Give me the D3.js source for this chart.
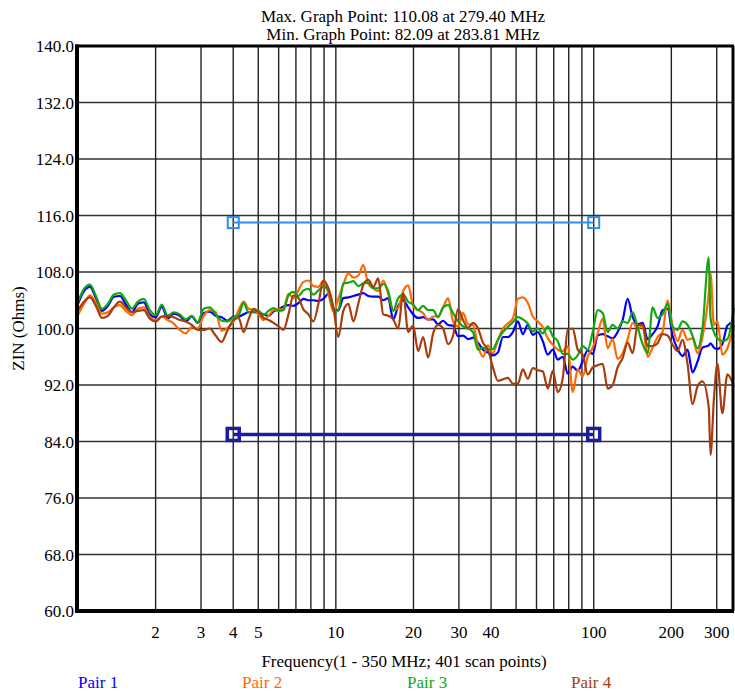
<!DOCTYPE html>
<html>
<head>
<meta charset="utf-8">
<script src="https://cdn.jsdelivr.net/npm/d3@7"></script>
<style>
  body { margin: 0; background: #fff; }
  text { font-family: "Liberation Serif", "Times New Roman", serif; }
</style>
</head>
<body>
<div id="chart"></div>
<script>
var svgWidth = 735;
var svgHeight = 691;

var margin = { top: 46, right: 1, bottom: 80, left: 78 };
var width = svgWidth - margin.left - margin.right;
var height = svgHeight - margin.top - margin.bottom;

// scan frequencies (MHz)
var freqs = [
  1.000, 1.055, 1.113, 1.174, 1.238, 1.306, 1.378, 1.454, 1.533, 1.618,
  1.707, 1.800, 1.899, 2.003, 2.113, 2.229, 2.351, 2.481, 2.617, 2.761,
  2.912, 3.072, 3.241, 3.419, 3.606, 3.804, 4.013,
  4.196, 4.387, 4.587, 4.796, 5.014, 5.243, 5.481, 5.731, 5.992, 6.265,
  6.550, 6.848, 7.160, 7.486, 7.827, 8.185, 8.557, 8.946, 9.354, 9.779,
  10.22, 10.69, 11.18, 11.69, 12.22, 12.78, 13.36, 13.97, 14.60, 15.27,
  15.96, 16.69, 17.45, 18.24, 19.08, 19.94, 20.85, 21.80, 22.80, 23.84,
  24.92, 26.06, 27.24, 28.48, 29.78, 31.13, 32.55, 34.03, 35.58, 37.20,
  38.89, 40.66, 42.51, 44.46, 46.47, 48.59, 50.81, 53.11, 55.54, 58.07,
  60.72, 63.48, 66.38, 69.39, 72.55, 75.86, 79.31, 82.93, 86.70, 90.65,
  94.80, 99.11, 103.6, 108.3, 113.3, 118.4, 123.8, 129.5, 135.4, 141.6,
  148.0, 154.8, 161.8, 169.2, 176.9, 184.9, 193.4, 202.2, 211.3, 221.0,
  231.1, 241.6, 252.6, 264.1,
  279.4, 283.8, 292.5, 301.8, 315.5, 329.9, 350.0
];

var pair1 = [
  103.5, 105.3, 105.9, 104.3, 102.5, 103.2, 104.5, 104.6, 103.4, 102.3,
  103.5, 103.7, 102.0, 101.6, 103.1, 101.4, 102.1, 101.8, 101.0, 101.7,
  100.8, 102.2, 102.4, 101.8, 101.6, 101.1, 101.7,
  101.7, 102.0, 102.3, 102.3, 102.2, 102.0, 101.8, 102.4, 102.7, 103.1,
  103.3, 103.2, 103.6, 104.2, 104.0, 104.0, 103.9, 104.2, 104.9, 102.7,
  102.6, 104.3, 104.4, 104.6, 104.8, 105.0, 104.6, 104.5, 104.5, 104.0,
  104.3, 101.3, 103.2, 104.0, 103.0, 102.0, 101.5, 101.6, 101.3, 101.3,
  100.6, 101.1, 100.5, 100.4, 98.9, 99.0, 98.5, 98.7, 98.0, 97.0,
  96.6, 96.2, 96.6, 98.8, 98.8, 99.5, 101.0, 99.2, 100.5, 99.1,
  99.5, 98.2, 96.3, 97.0, 95.6, 96.0, 93.6, 94.6, 94.0, 95.4,
  96.9, 96.4, 99.0, 99.2, 98.9, 98.6, 99.5, 101.2, 104.2, 101.6,
  100.6, 100.8, 98.5, 99.2, 100.3, 102.6, 102.8, 99.0, 97.1, 96.1,
  97.0, 93.8, 95.3, 97.3,
  97.6, 97.9, 97.3, 97.1, 97.8, 100.4, 101.0
];

var pair2 = [
  101.9, 103.5, 104.7, 103.6, 102.1, 102.3, 103.0, 103.3, 102.5, 101.9,
  102.8, 103.0, 101.6, 101.2, 101.7, 101.2, 100.7, 99.8, 99.3, 100.2,
  100.0, 101.8, 102.6, 102.3, 99.7, 100.1, 101.0,
  102.6, 103.8, 102.8, 102.6, 102.0, 101.2, 101.8, 102.6, 102.7, 102.8,
  104.9, 104.3, 105.4, 106.6, 106.8, 106.0, 105.9, 106.8, 104.9, 102.4,
  104.2, 106.2, 107.8, 107.2, 107.5, 109.0, 106.3, 105.7, 105.3, 106.8,
  104.9, 102.6, 102.9, 105.3, 106.1, 103.2, 102.6, 102.2, 101.2, 101.7,
  101.7, 103.0, 104.3, 101.0, 100.3, 102.2, 100.6, 100.5, 97.5, 96.0,
  97.6, 96.5, 98.4, 100.0, 100.7, 101.4, 104.2, 104.4, 103.6, 101.7,
  101.0, 100.2, 98.6, 97.7, 97.0, 96.8, 97.5, 91.0, 94.2, 93.2,
  96.0, 97.3, 99.3, 101.4, 97.2, 98.5, 95.7, 96.5, 98.5, 100.8,
  100.0, 100.4, 96.0, 97.3, 98.8, 99.5, 104.0, 100.4, 98.2, 99.8,
  98.4, 98.6, 96.5, 98.8,
  105.0, 107.8, 100.5, 101.0, 96.3, 97.2, 100.5
];

var pair3 = [
  103.8, 105.6, 106.2, 104.6, 102.8, 103.5, 104.8, 105.0, 104.0, 102.8,
  103.8, 104.2, 102.6, 101.9, 103.4, 101.8, 102.3, 102.0, 101.3, 101.8,
  100.9, 102.8, 103.0, 102.0, 101.1, 101.0, 101.6,
  101.9, 103.6, 102.3, 102.4, 102.5, 101.9, 102.5, 102.9, 102.5, 102.6,
  104.7, 105.2, 104.6, 105.4, 105.6, 104.8, 105.4, 105.9, 105.5, 102.8,
  102.5, 106.4, 106.5, 106.7, 106.0, 106.4, 106.5, 105.7, 105.7, 106.3,
  105.3, 102.5, 104.3, 104.8, 103.8, 103.4, 102.6, 103.2, 102.6, 102.6,
  101.6, 103.0, 103.3, 102.2, 101.0, 100.3, 100.0, 99.5, 97.0, 97.3,
  97.0, 97.1, 98.4, 99.5, 100.2, 100.9, 101.6, 101.3, 100.7, 99.6,
  100.0, 99.3, 100.3, 98.9, 98.2, 96.4, 96.4, 95.6, 96.2, 97.5,
  97.0, 99.5, 102.6, 102.2, 99.5, 100.5, 100.0, 101.0, 100.8, 102.3,
  100.2, 97.8, 96.5, 103.0, 101.5, 102.0, 103.5, 100.2, 99.8, 101.0,
  100.5, 99.0, 97.2, 100.0,
  110.08, 101.5, 99.5, 98.6, 98.2, 98.5, 102.9
];

var pair4 = [
  102.6, 103.8, 104.4, 103.2, 101.5, 101.8, 103.0, 103.8, 103.0, 102.3,
  102.5, 102.6, 101.4, 101.0, 101.7, 101.8, 101.6, 101.2, 101.0, 100.5,
  99.8, 99.8, 100.0, 99.0, 98.1, 99.8, 101.2,
  101.5, 99.5, 101.3, 102.8, 102.3, 101.5, 101.2, 100.8, 100.3, 99.8,
  102.0, 104.7, 104.3, 102.7, 102.0, 101.0, 103.5, 106.8, 105.7, 103.0,
  98.8, 102.5, 103.5, 101.0, 103.5, 106.2, 106.9, 105.9, 107.1, 102.0,
  101.8, 101.3, 100.0, 105.0, 99.5, 100.4, 96.8, 98.8, 95.9, 99.3,
  100.5, 100.0, 97.8, 99.0, 102.8, 101.2, 100.1, 100.8, 100.0, 98.0,
  97.0, 94.5, 92.6, 92.8, 93.0, 92.2, 92.2, 94.2, 92.9, 94.4,
  94.1, 93.9, 91.5, 94.0, 91.0, 93.0, 99.8, 100.0, 97.0, 96.3,
  93.5, 94.5, 94.8, 95.0, 91.5, 92.0, 94.5, 95.8, 98.0, 96.5,
  100.5, 100.5, 97.5, 97.5, 97.9, 99.2, 99.0, 97.7, 96.8, 98.4,
  95.0, 89.3, 91.8, 92.5,
  88.8, 82.09, 90.0, 95.0, 88.0, 93.5, 91.8
];

var seriesNames = ["Pair 1", "Pair 2", "Pair 3", "Pair 4"];
var seriesColors = ["#0000ff", "#ff6a00", "#10a810", "#a83c0c"];
var seriesValues = [pair1, pair2, pair3, pair4];

var yTicks = [60, 68, 76, 84, 92, 100, 108, 116, 124, 132, 140];
var xGrid = [2, 3, 4, 5, 6, 7, 8, 9, 10, 20, 30, 40, 50, 60, 70, 80, 90, 100, 200, 300];
var xLabels = [2, 3, 4, 5, 10, 20, 30, 40, 100, 200, 300];

// limit lines: [start MHz, end MHz, ohms]
var upperLimit = [4, 100, 115];
var lowerLimit = [4, 100, 85];

var titleLines = ["Max. Graph Point: 110.08 at 279.40 MHz", "Min. Graph Point: 82.09 at 283.81 MHz"];

var svg = d3.select("#chart")
  .append("svg")
  .attr("width", svgWidth)
  .attr("height", svgHeight);

var chartGroup = svg.append("g")
  .attr("transform", `translate(${margin.left}, ${margin.top})`);

var xScale = d3.scaleLog().domain([1, 350]).range([0, width]);
var yScale = d3.scaleLinear().domain([60, 140]).range([height, 0]);

// grid
chartGroup.append("g")
  .selectAll("line")
  .data(yTicks)
  .enter()
  .append("line")
  .attr("x1", 0)
  .attr("x2", width)
  .attr("y1", d => yScale(d))
  .attr("y2", d => yScale(d))
  .attr("stroke", "#333")
  .attr("stroke-width", 1.6);

chartGroup.append("g")
  .selectAll("line")
  .data(xGrid)
  .enter()
  .append("line")
  .attr("x1", d => xScale(d))
  .attr("x2", d => xScale(d))
  .attr("y1", 0)
  .attr("y2", height)
  .attr("stroke", "#222")
  .attr("stroke-width", 1.4);

// y axis labels
chartGroup.append("g")
  .selectAll("text")
  .data(yTicks)
  .enter()
  .append("text")
  .attr("x", -4)
  .attr("y", d => yScale(d) + 6)
  .attr("text-anchor", "end")
  .attr("font-size", "17px")
  .text(d => d.toFixed(1));

// x axis labels
chartGroup.append("g")
  .selectAll("text")
  .data(xLabels)
  .enter()
  .append("text")
  .attr("x", d => xScale(d))
  .attr("y", height + 27)
  .attr("text-anchor", "middle")
  .attr("font-size", "17px")
  .text(d => d);

// limit lines
function drawLimit(lim, color, sw, box) {
  var g = chartGroup.append("g");
  g.append("line")
    .attr("x1", xScale(lim[0]))
    .attr("x2", xScale(lim[1]))
    .attr("y1", yScale(lim[2]))
    .attr("y2", yScale(lim[2]))
    .attr("stroke", color)
    .attr("stroke-width", sw);
  g.selectAll("rect")
    .data([lim[0], lim[1]])
    .enter()
    .append("rect")
    .attr("x", d => xScale(d) - box / 2)
    .attr("y", yScale(lim[2]) - box / 2)
    .attr("width", box)
    .attr("height", box)
    .attr("fill", "none")
    .attr("stroke", color)
    .attr("stroke-width", sw);
}
drawLimit(upperLimit, "#2b8ef0", 2, 11);
drawLimit(lowerLimit, "#1c1ca0", 3.5, 12);

// data lines
var line = d3.line()
  .curve(d3.curveMonotoneX)
  .x(d => xScale(d[0]))
  .y(d => yScale(d[1]));

seriesValues.forEach(function(vals, i) {
  chartGroup.append("path")
    .datum(freqs.map((f, j) => [f, vals[j]]))
    .attr("fill", "none")
    .attr("stroke", seriesColors[i])
    .attr("stroke-width", 2.2)
    .attr("stroke-linejoin", "round")
    .attr("d", line);
});

// plot frame
chartGroup.append("line").attr("x1", -1).attr("x2", -1).attr("y1", -1.5).attr("y2", height + 2)
  .attr("stroke", "#000").attr("stroke-width", 4);
chartGroup.append("line").attr("x1", -3).attr("x2", width).attr("y1", height).attr("y2", height)
  .attr("stroke", "#000").attr("stroke-width", 4);
chartGroup.append("line").attr("x1", -3).attr("x2", width).attr("y1", 0).attr("y2", 0)
  .attr("stroke", "#000").attr("stroke-width", 3);
chartGroup.append("line").attr("x1", width - 1).attr("x2", width - 1).attr("y1", 0).attr("y2", height)
  .attr("stroke", "#000").attr("stroke-width", 3);

// titles
svg.selectAll(".title")
  .data(titleLines)
  .enter()
  .append("text")
  .attr("class", "title")
  .attr("x", 403)
  .attr("y", (d, i) => 22 + i * 18)
  .attr("text-anchor", "middle")
  .attr("font-size", "17px")
  .text(d => d);

svg.append("text")
  .attr("transform", `translate(24, ${margin.top + height / 2}) rotate(-90)`)
  .attr("text-anchor", "middle")
  .attr("font-size", "17px")
  .text("ZIN (Ohms)");

svg.append("text")
  .attr("x", 404)
  .attr("y", 667)
  .attr("text-anchor", "middle")
  .attr("font-size", "17px")
  .text("Frequency(1 - 350 MHz; 401 scan points)");

// legend
var legendX = [78, 242, 407, 571];
svg.selectAll(".legend")
  .data(seriesNames)
  .enter()
  .append("text")
  .attr("class", "legend")
  .attr("x", (d, i) => legendX[i])
  .attr("y", 688)
  .attr("font-size", "17px")
  .attr("fill", (d, i) => seriesColors[i])
  .text(d => d);
</script>
</body>
</html>
